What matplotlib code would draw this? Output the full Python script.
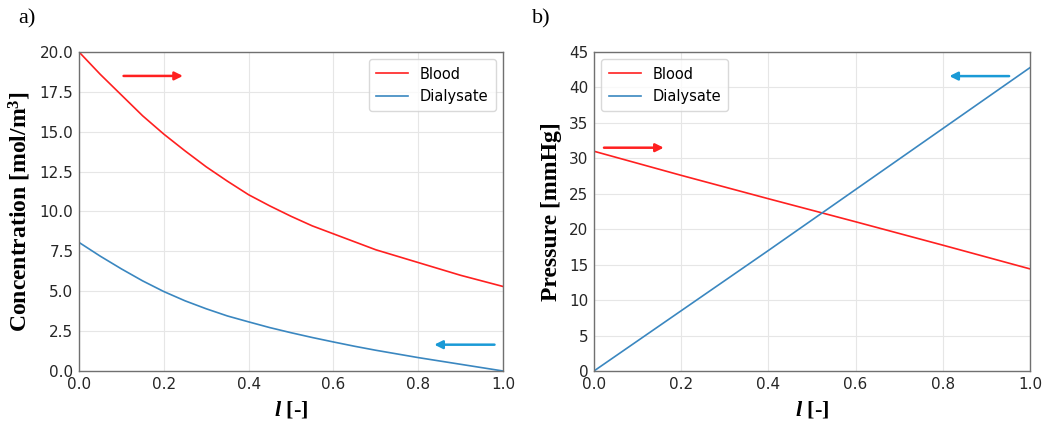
import numpy as np
import matplotlib
matplotlib.use("Agg")
import matplotlib.pyplot as plt

# ----- data -----
l_pts = [0.0, 0.05, 0.1, 0.15, 0.2, 0.25, 0.3, 0.35, 0.4, 0.45, 0.5,
         0.55, 0.6, 0.65, 0.7, 0.75, 0.8, 0.85, 0.9, 0.95, 1.0]
conc_blood = [20.0, 18.6, 17.3, 16.0, 14.85, 13.8, 12.8, 11.9, 11.05, 10.35, 9.7,
              9.1, 8.6, 8.1, 7.6, 7.2, 6.8, 6.4, 6.0, 5.65, 5.3]
conc_dialysate = [8.06, 7.2, 6.4, 5.65, 4.98, 4.4, 3.9, 3.45, 3.08, 2.72, 2.4,
                  2.1, 1.82, 1.55, 1.3, 1.07, 0.84, 0.63, 0.42, 0.21, 0.0]

l_press = [0.0, 0.2, 0.4, 0.6, 0.8, 1.0]
press_blood = [31.0, 27.6, 24.3, 21.05, 17.75, 14.4]
press_dialysate = [0.0, 8.5, 17.0, 25.6, 34.2, 42.8]

conc_ticks = [0.0, 2.5, 5.0, 7.5, 10.0, 12.5, 15.0, 17.5, 20.0]
press_ticks = [0, 5, 10, 15, 20, 25, 30, 35, 40, 45]
x_ticks = [0.0, 0.2, 0.4, 0.6, 0.8, 1.0]

RED = "#ff2020"
BLUE = "#3a87c0"
ARROW_BLUE = "#1a9ad6"

plt.rcParams["font.family"] = ["DejaVu Sans"]
plt.rcParams["mathtext.fontset"] = "custom"
plt.rcParams["mathtext.it"] = "Liberation Serif:italic:bold"
plt.rcParams["mathtext.rm"] = "Liberation Serif:bold"

fig = plt.figure(figsize=(10.47, 4.28), dpi=100)
ax_c = fig.add_axes([0.0755, 0.1332, 0.4049, 0.7453])
ax_p = fig.add_axes([0.5673, 0.1332, 0.4165, 0.7453])


def style(ax):
    ax.grid(True, color="#e6e6e6", linewidth=0.8)
    ax.set_axisbelow(True)
    for s in ax.spines.values():
        s.set_color("#707070")
        s.set_linewidth(1.0)
    ax.tick_params(length=0, labelsize=11, labelcolor="#262626", pad=4)
    ax.set_xlim(0, 1)
    ax.set_xticks(x_ticks)
    ax.set_xlabel(r"$l$ [-]", family="Liberation Serif", fontweight="bold",
                  fontsize=16, labelpad=6)


def arrow(ax, x0, x1, y, color):
    ax.annotate("", xy=(x1, y), xytext=(x0, y),
                arrowprops=dict(arrowstyle="-|>", color=color, lw=1.8,
                                mutation_scale=12, shrinkA=0, shrinkB=0))


# a) concentration
ax_c.plot(l_pts, conc_blood, color=RED, lw=1.2, label="Blood")
ax_c.plot(l_pts, conc_dialysate, color=BLUE, lw=1.2, label="Dialysate")
ax_c.set_ylim(0, 20)
ax_c.set_yticks(conc_ticks)
style(ax_c)
ax_c.set_ylabel("Concentration [mol/m$^3$]", family="Liberation Serif",
                fontweight="bold", fontsize=17, labelpad=5)
ax_c.legend(loc="upper right", fontsize=10.5, frameon=True, edgecolor="#d0d0d0",
            borderpad=0.5, handlelength=2.2)
arrow(ax_c, 0.105, 0.245, 18.5, RED)
arrow(ax_c, 0.98, 0.838, 1.65, ARROW_BLUE)

# b) pressure
ax_p.plot(l_press, press_blood, color=RED, lw=1.2, label="Blood")
ax_p.plot(l_press, press_dialysate, color=BLUE, lw=1.2, label="Dialysate")
ax_p.set_ylim(0, 45)
ax_p.set_yticks(press_ticks)
style(ax_p)
ax_p.set_ylabel("Pressure [mmHg]", family="Liberation Serif",
                fontweight="bold", fontsize=17, labelpad=5)
ax_p.legend(loc="upper left", fontsize=10.5, frameon=True, edgecolor="#d0d0d0",
            borderpad=0.5, handlelength=2.2)
arrow(ax_p, 0.023, 0.16, 31.5, RED)
arrow(ax_p, 0.952, 0.815, 41.6, ARROW_BLUE)

fig.text(0.017, 0.955, "a)", family="Liberation Serif", fontsize=16, va="center")
fig.text(0.508, 0.955, "b)", family="Liberation Serif", fontsize=16, va="center")

fig.savefig("out.png", dpi=100)
